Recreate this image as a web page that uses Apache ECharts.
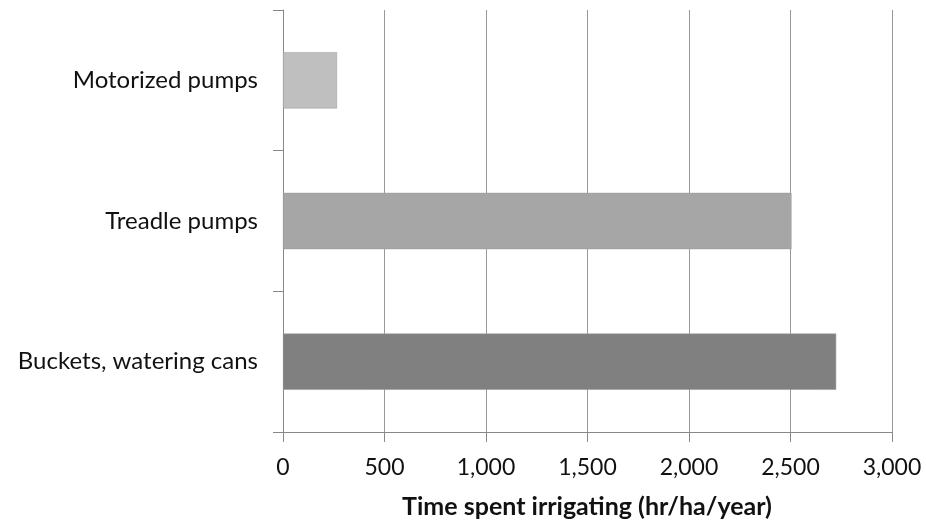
<!DOCTYPE html>
<html><head><meta charset="utf-8">
<script src="https://cdn.jsdelivr.net/npm/echarts@6/dist/echarts.min.js"></script>
<style>html,body{margin:0;padding:0;background:#fff}#c{width:926px;height:522px}</style>
</head><body><div id="c"></div>
<script>
const categories = ['Buckets, watering cans', 'Treadle pumps', 'Motorized pumps'];
const values = [2725, 2505, 266];
const xTicks = [0, 500, 1000, 1500, 2000, 2500, 3000];
const axisTitle = 'Time spent irrigating (hr/ha/year)';
const barColors = ['#808080', '#a6a6a6', '#bfbfbf'];

const font = 'Lato';
const chart = echarts.init(document.getElementById('c'));
chart.setOption({
  animation: false,
  grid: { left: 283, right: 34, top: 10, bottom: 90 },
  xAxis: {
    type: 'value', min: xTicks[0], max: xTicks[xTicks.length - 1], interval: 500,
    axisLine: { show: true, lineStyle: { color: '#888', width: 1 } },
    axisTick: { show: true, length: 10, lineStyle: { color: '#888' } },
    splitLine: { show: true, lineStyle: { color: '#999', width: 1 } },
    axisLabel: { color: '#111', fontFamily: font, fontSize: 23, margin: 24,
      formatter: v => v.toLocaleString('en-US') }
  },
  yAxis: {
    type: 'category', data: categories,
    axisLine: { show: true, lineStyle: { color: '#888', width: 1 } },
    axisTick: { show: true, length: 10, lineStyle: { color: '#888' } },
    axisLabel: { color: '#111', fontFamily: font, fontSize: 24, margin: 25 }
  },
  graphic: [{
    type: 'text', x: 587, y: 507,
    style: { text: axisTitle, font: 'bold 25px Lato', fill: '#111', textAlign: 'center', textVerticalAlign: 'middle' }
  }],
  series: [{
    type: 'bar', barWidth: '40%',
    data: values.map((v, i) => ({ value: v, itemStyle: { color: barColors[i], borderColor: '#999', borderWidth: 0.5 } }))
  }]
});
</script></body></html>
